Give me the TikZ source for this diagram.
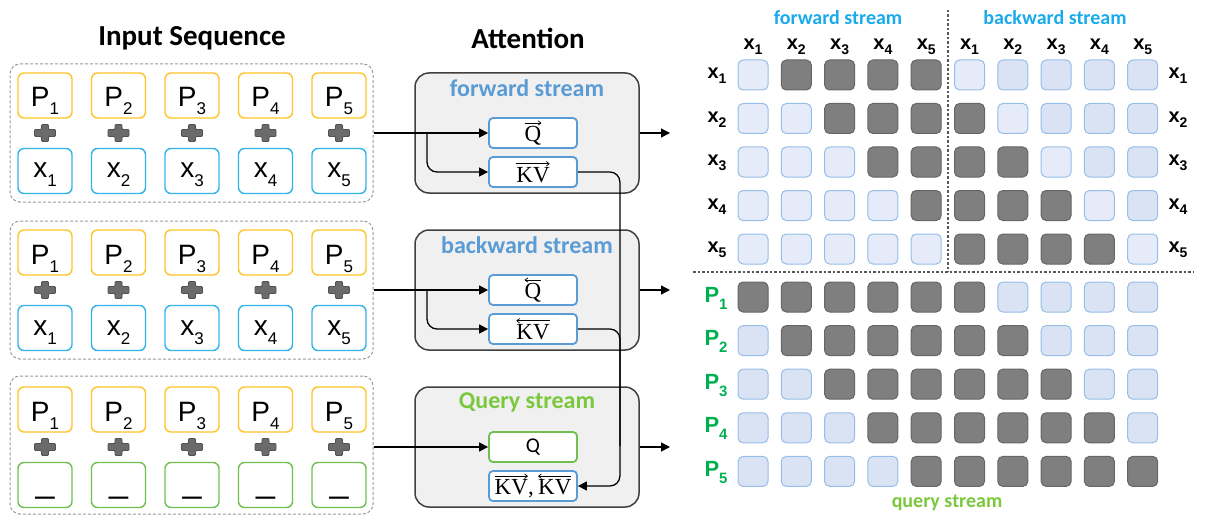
\documentclass[tikz,border=0pt]{standalone}
\usepackage[no-math]{fontspec}
\setmainfont{Liberation Sans}
\newfontfamily\calib{Carlito}
\newfontfamily\serifq{Liberation Serif}
\usetikzlibrary{arrows.meta,calc}
\definecolor{ylw}{RGB}{255,196,40}
\definecolor{cyn}{RGB}{50,180,235}
\definecolor{grn}{RGB}{112,192,80}
\definecolor{attblue}{RGB}{91,155,213}
\definecolor{qgreen}{RGB}{122,200,60}
\definecolor{mtit}{RGB}{25,170,235}
\definecolor{pgreen}{RGB}{0,176,80}
\definecolor{cellA}{RGB}{218,227,243}
\definecolor{cellB}{RGB}{229,235,248}
\definecolor{cellbd}{RGB}{150,190,232}
\definecolor{darkc}{RGB}{127,127,127}
\newcommand\tokP[1]{{\fontsize{28}{28}\selectfont P}\raisebox{-8pt}{\fontsize{17}{17}\selectfont #1}}
\newcommand\tokX[1]{{\fontsize{28}{28}\selectfont x}\raisebox{-9pt}{\fontsize{17}{17}\selectfont #1}}
\newcommand\mlx[1]{x\raisebox{-5pt}{\fontsize{14}{14}\selectfont #1}}
\newcommand\mlP[1]{P\raisebox{-7pt}{\fontsize{15}{15}\selectfont #1}}
\newcommand\sq[1]{\hbox{\serifq\fontsize{23}{23}\selectfont #1}}
\newlength\vw
\newcommand\vecR[1]{\settowidth\vw{#1}\vbox{\offinterlineskip\halign{\hfil##\hfil\cr
  \tikz\draw[-{To[length=3.5pt,width=5pt]},line width=0.7pt](0pt,0pt)--(\vw,0pt);\cr\noalign{\kern1pt}#1\cr}}}
\newcommand\vecL[1]{\settowidth\vw{#1}\vbox{\offinterlineskip\halign{\hfil##\hfil\cr
  \tikz\draw[{To[length=3.5pt,width=5pt]}-,line width=0.7pt](0pt,0pt)--(\vw,0pt);\cr\noalign{\kern1pt}#1\cr}}}
\begin{document}
\begin{tikzpicture}[x=1pt,y=-1pt,
 tok/.style={draw, rounded corners=6pt, line width=1.4pt, minimum width=54pt, minimum height=45pt, inner sep=0pt, fill=white},
 ptok/.style={tok, draw=ylw, text height=28pt, text depth=5pt},
 xtok/.style={tok, draw=cyn, text height=19pt, text depth=5pt},
 gtok/.style={tok, draw=grn, text height=20pt, text depth=6pt},
 grp/.style={draw=black!40, dash pattern=on 3pt off 2pt, rounded corners=10pt, line width=1pt, minimum width=363pt, minimum height=138pt},
 att/.style={draw=black!75, fill=black!6, rounded corners=14pt, line width=1.5pt, minimum width=224pt, minimum height=120pt},
 atitle/.style={font=\calib\bfseries\fontsize{24}{24}\selectfont},
 qk/.style={draw=attblue, fill=white, rounded corners=4pt, line width=1.8pt, minimum width=88pt, minimum height=30pt, inner sep=0pt, font=\fontsize{18}{18}\selectfont},
 arr/.style={-{Triangle[length=9pt,width=9pt]}, line width=1.3pt},
 ln/.style={line width=1.3pt},
 cell/.style={draw=cellbd, rounded corners=5pt, minimum size=30pt, inner sep=0pt, line width=1pt},
 cL/.style={cell, fill=cellB}, cM/.style={cell, fill=cellA}, cD/.style={cell, fill=darkc, draw=darkc!80!black},
 mlab/.style={font=\bfseries\fontsize{20}{20}\selectfont, inner sep=0pt},
 plab/.style={font=\bfseries\fontsize{22}{22}\selectfont, text=pgreen, inner sep=0pt},
 mtitle/.style={font=\calib\bfseries\fontsize{20}{20}\selectfont, text=mtit},
 mdash/.style={draw=black!65, line width=1.2pt, dash pattern=on 2.5pt off 2pt},
 plusmark/.pic={\filldraw[fill=black!58, draw=black!68, line width=0.8pt, rounded corners=1pt]
   (-3.5,-8.5) -- (3.5,-8.5) -- (3.5,-3.5) -- (10.5,-3.5) -- (10.5,3.5) -- (3.5,3.5) -- (3.5,8.5)
   -- (-3.5,8.5) -- (-3.5,3.5) -- (-10.5,3.5) -- (-10.5,-3.5) -- (-3.5,-3.5) -- cycle;}
]
\useasboundingbox (0,0) rectangle (1210,516);
% titles
\node[font=\calib\bfseries\fontsize{29}{29}\selectfont] (tin) at (192,38) {Input Sequence};
\node[font=\calib\bfseries\fontsize{29}{29}\selectfont] (tatt) at (528,38) {Attention};
% input groups
\foreach \g/\dy/\gy in {1/0/133, 2/157/290, 3/314/445}{
  \node[grp] (grp\g) at (191.5,\gy) {};
  \foreach \t in {1,...,5}{
    \pgfmathsetmacro\tx{45+73.5*(\t-1)}
    \node[ptok] (p\g\t) at (\tx,95.5+\dy) {\tokP{\t}};
    \pic at (\tx,133+\dy) {plusmark};
  }
}
\foreach \g/\dy in {1/0, 2/157}{
  \foreach \t in {1,...,5}{
    \pgfmathsetmacro\tx{45+73.5*(\t-1)}
    \node[xtok] (x\g\t) at (\tx,171+\dy) {\tokX{\t}};
  }
}
\foreach \t in {1,...,5}{
  \pgfmathsetmacro\tx{45+73.5*(\t-1)}
  \node[gtok, font=\fontsize{34}{34}\selectfont] (b\t) at (\tx,485) {\_};
}
% attention boxes
\foreach \g/\dy in {1/0, 2/157, 3/314}{
  \node[att] (att\g) at (527,133+\dy) {};
}
\node[atitle, text=attblue] (atl1) at (527,88) {forward stream};
\node[atitle, text=attblue] (atl2) at (527,245) {backward stream};
\node[atitle, text=qgreen] (atl3) at (527,403) {Query stream};
\node[qk] (q1) at (533,133) {\vecR{\sq{Q}}};
\node[qk] (kv1) at (533,172) {\vecR{\sq{KV}}};
\node[qk] (q2) at (533,290) {\vecL{\sq{Q}}};
\node[qk] (kv2) at (533,329) {\vecL{\sq{KV}}};
\node[qk, draw=grn, font=\calib\fontsize{21}{21}\selectfont] (q3) at (533,447) {Q};
\node[qk] (kvq) at (533,486) {\vecR{\sq{KV}}\sq{,\,}\vecL{\sq{KV}}};
% input connectors
\foreach \g in {1,2,3}{
  \draw[arr] (grp\g.east |- q\g.west) -- (q\g.west);
}
\coordinate (br1) at (427,133);
\coordinate (br2) at (427,290);
\draw[arr, rounded corners=10pt] (br1) |- (kv1.west);
\draw[arr, rounded corners=10pt] (br2) |- (kv2.west);
% outputs
\foreach \g/\dy in {1/0, 2/157, 3/314}{
  \coordinate (o\g) at (670,133+\dy);
  \draw[arr] (att\g.east |- o\g) -- (o\g);
}
% KV connectors
\coordinate (kvc) at ($(kvq.east)+(42,0)$);
\coordinate (kvm) at ($(kvq.east)+(42,-40)$);
\draw[arr, rounded corners=10pt] (kv1.east) -| (kvc) -- (kvq.east);
\draw[ln, rounded corners=10pt] (kv2.east) -| (kvm);
% matrix
\node[mtitle] (mt1) at (838,18) {forward stream};
\node[mtitle] (mt2) at (1055,18) {backward stream};
\node[mtitle, text=qgreen] (mt3) at (947,503) {query stream};
\foreach \j in {1,...,10}{
  \pgfmathsetmacro\cx{753+43.3*(\j-1)}
  \pgfmathtruncatemacro\k{mod(\j-1,5)+1}
  \node[mlab] (h\j) at (\cx,47) {\mlx{\k}};
}
\foreach \i in {1,...,5}{
  \pgfmathsetmacro\cy{75+43.5*(\i-1)}
  \pgfmathsetmacro\py{297+43.6*(\i-1)}
  \node[mlab] (rl\i) at (717,\cy+1) {\mlx{\i}};
  \node[mlab] (rr\i) at (1178,\cy+1) {\mlx{\i}};
  \node[plab] (pl\i) at (716,\py+1) {\mlP{\i}};
  \foreach \j in {1,...,10}{
    \pgfmathsetmacro\cx{753+43.3*(\j-1)}
    \ifnum\j<6
      \ifnum\j>\i \def\stx{cD}\else\def\stx{cL}\fi
      \ifnum\j<\i \def\stp{cM}\else\def\stp{cD}\fi
    \else
      \pgfmathtruncatemacro\k{\j-5}
      \ifnum\k<\i \def\stx{cD}\else\ifnum\k=\i \def\stx{cL}\else\def\stx{cM}\fi\fi
      \ifnum\k>\i \def\stp{cM}\else\def\stp{cD}\fi
    \fi
    \edef\tmp{\noexpand\node[\stx] (mx-\i-\j) at (\cx,\cy) {}; \noexpand\node[\stp] (mp-\i-\j) at (\cx,\py) {};}
    \tmp
  }
}
\draw[mdash] (948,10) -- (948,272);
\draw[mdash] (693,272) -- (1193,272);
\end{tikzpicture}
\end{document}
